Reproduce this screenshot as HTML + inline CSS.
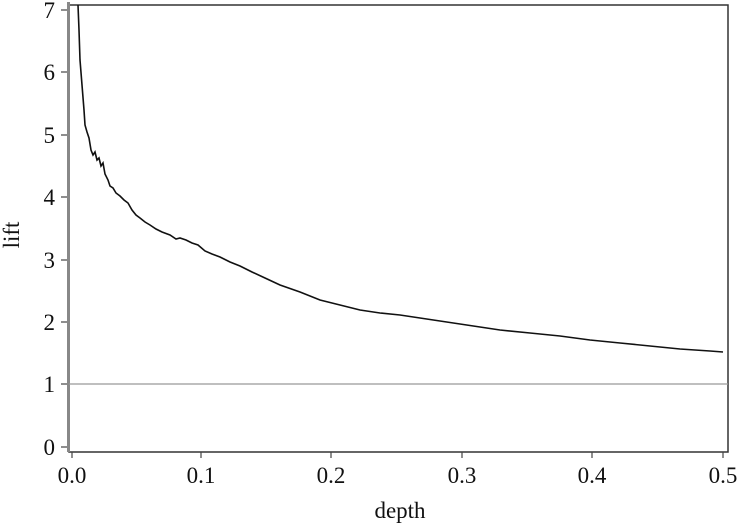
<!DOCTYPE html>
<html><head><style>body{margin:0;background:#fff}svg{display:block}text{font-family:"Liberation Serif",serif;fill:#111}</style></head>
<body>
<svg width="738" height="525" viewBox="0 0 738 525">
<rect x="69" y="5" width="659" height="447" fill="none" stroke="#333" stroke-width="1.5"/>
<line x1="68.5" y1="2" x2="68.5" y2="452" stroke="#888" stroke-width="3"/>
<line x1="69" y1="384" x2="728" y2="384" stroke="#999" stroke-width="1.2"/>
<g stroke="#444" stroke-width="1.2">
<line x1="61" y1="10" x2="67" y2="10"/><line x1="61" y1="72" x2="67" y2="72"/><line x1="61" y1="135" x2="67" y2="135"/><line x1="61" y1="197" x2="67" y2="197"/><line x1="61" y1="260" x2="67" y2="260"/><line x1="61" y1="322" x2="67" y2="322"/><line x1="61" y1="384" x2="67" y2="384"/><line x1="61" y1="447" x2="67" y2="447"/>
<line x1="72" y1="452" x2="72" y2="458"/><line x1="201" y1="452" x2="201" y2="458"/><line x1="331" y1="452" x2="331" y2="458"/><line x1="462" y1="452" x2="462" y2="458"/><line x1="592" y1="452" x2="592" y2="458"/><line x1="723" y1="452" x2="723" y2="458"/>
</g>
<g font-size="23" text-anchor="end">
<text x="55" y="18">7</text><text x="55" y="80">6</text><text x="55" y="143">5</text><text x="55" y="205">4</text><text x="55" y="268">3</text><text x="55" y="330">2</text><text x="55" y="392">1</text><text x="55" y="455">0</text>
</g>
<g font-size="23" text-anchor="middle">
<text x="72" y="483">0.0</text><text x="201" y="483">0.1</text><text x="331" y="483">0.2</text><text x="462" y="483">0.3</text><text x="592" y="483">0.4</text><text x="723" y="483">0.5</text>
<text x="400" y="518">depth</text>
</g>
<text font-size="23" text-anchor="middle" transform="translate(19,235) rotate(-90)">lift</text>
<polyline fill="none" stroke="#111" stroke-width="1.6" points="78,5 79,30 80,60 82,85 84,110 85,125 87,132 89,138 91,150 93,155 95,152 97,160 99,158 101,166 103,163 105,174 108,180 110,186 113,188 116,193 120,196 124,200 128,203 132,210 136,215 140,218 145,222 150,225 156,229 162,232 170,235 176,239 180,238 186,240 192,243 198,245 205,251 212,254 220,257 230,262 240,266 252,272 265,278 280,285 300,292 320,300 340,305 360,310 380,313 400,315 420,318 440,321 460,324 480,327 500,330 530,333 560,336 590,340 620,343 650,346 680,349 710,351 723,352"/>
</svg>
</body></html>
